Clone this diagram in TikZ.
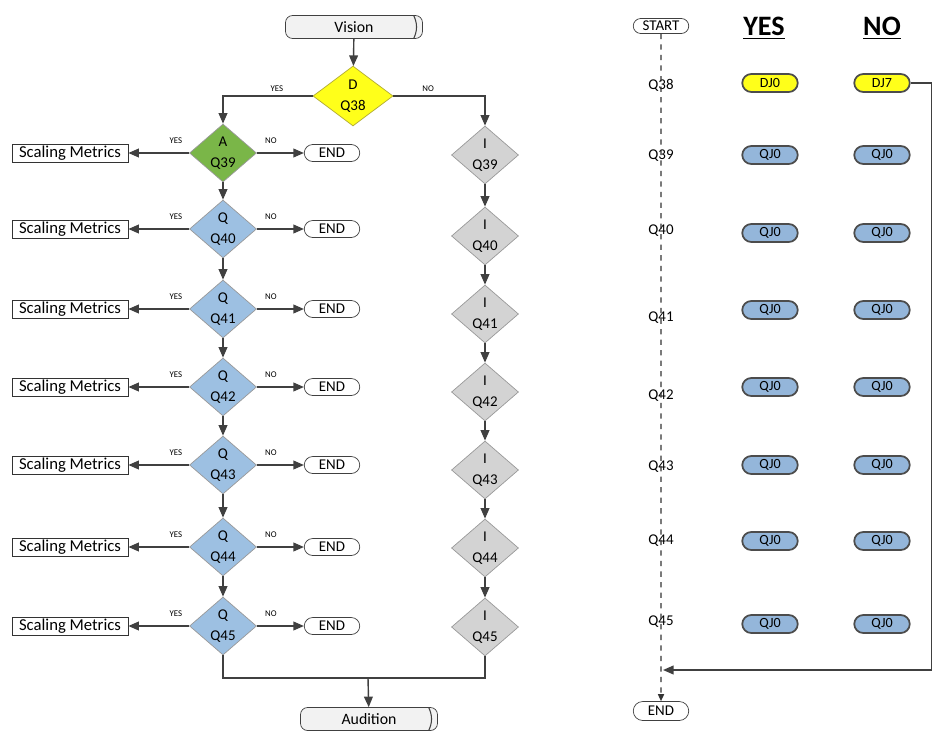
\documentclass[tikz,border=0pt]{standalone}
\usepackage{fontspec}
\setsansfont{Carlito}
\usepackage{tikz}
\usetikzlibrary{arrows.meta,positioning,shapes.geometric,shapes.misc,calc}
\definecolor{dyellow}{HTML}{FFFF1A}
\definecolor{agreen}{HTML}{7AB648}
\definecolor{qblue}{HTML}{9DC0E2}
\definecolor{igray}{HTML}{D3D3D3}
\definecolor{pillblue}{HTML}{94B6DA}
\tikzset{
  dec/.style={diamond, draw=black!40, fill=#1, minimum width=1.34cm, minimum height=1.16cm,
              inner sep=0pt, aspect=1.15, align=center, font=\sffamily\fontsize{8.5}{9}\selectfont},
  term/.style={rounded rectangle, draw=black!75, fill=white, minimum width=1.18cm,
               minimum height=0.34cm, inner sep=1pt, font=\sffamily\fontsize{8.5}{9}\selectfont},
  drum/.style={rectangle, rounded corners=4pt, draw=black!75, fill=black!5, minimum width=2.74cm,
               minimum height=0.46cm, inner sep=1pt, font=\sffamily\fontsize{9}{10}\selectfont,
               path picture={\draw[black!75, line width=0.6pt]
                 ([xshift=-5pt]path picture bounding box.north east) to[bend left=25]
                 ([xshift=-5pt]path picture bounding box.south east);}},
  scalebox/.style={rectangle, draw=black!80, minimum width=2.32cm, minimum height=0.33cm,
                   inner sep=1pt, font=\sffamily\fontsize{9.5}{10}\selectfont},
  pill/.style={rounded rectangle, draw=black!70, line width=1pt, fill=#1, minimum width=1.18cm,
               minimum height=0.36cm, inner sep=1pt, font=\sffamily\fontsize{8}{9}\selectfont},
  rowlbl/.style={inner sep=2pt, font=\sffamily\fontsize{8.5}{9}\selectfont},
  head/.style={font=\sffamily\bfseries\fontsize{16}{18}\selectfont},
  lbl/.style={font=\sffamily\fontsize{5}{6}\selectfont, inner sep=2pt},
  arr/.style={-{Triangle[length=6pt,width=5pt]}, line width=0.8pt, draw=black!75},
  line/.style={line width=0.8pt, draw=black!75},
  dashline/.style={dashed, line width=0.7pt, draw=black!80, -{Triangle[length=4pt,width=3.5pt]}},
}
\begin{document}
\begin{tikzpicture}[x=0.02cm, y=-0.02cm]
  \useasboundingbox (0,0) rectangle (936,737);

  % left flow
  \node[drum] (vision) at (354,27) {Vision};
  \node[dec=dyellow, draw=olive!70, minimum width=1.6cm, minimum height=1.2cm] (d38) at (353,96) {D\\[3pt]Q38};
  \draw[arr] (vision) -- (d38);

  \foreach \q/\y/\g/\c/\t in {39/153/155/agreen/A, 40/229/236/qblue/Q, 41/309/314/qblue/Q,
                              42/387/392/qblue/Q, 43/465/470/qblue/Q, 44/547/548/qblue/Q,
                              45/626/627/qblue/Q} {
    \node[dec=\c] (l\q) at (223,\y) {\t\\[3pt]Q\q};
    \node[dec=igray] (r\q) at (485,\g) {I\\[3pt]Q\q};
    \node[scalebox] (sm\q) at (70,\y) {Scaling Metrics};
    \node[term] (end\q) at (332,\y) {END};
    \draw[arr] (l\q) -- node[lbl, above, pos=0.22, yshift=3pt]{YES} (sm\q);
    \draw[arr] (l\q) -- node[lbl, above, pos=0.3, yshift=3pt]{NO} (end\q);
  }
  \foreach \a/\b in {39/40, 40/41, 41/42, 42/43, 43/44, 44/45} {
    \draw[arr] (l\a) -- (l\b);
    \draw[arr] (r\a) -- (r\b);
  }
  \draw[arr] (d38.west) -| node[lbl, above, pos=0.2]{YES} (l39.north);
  \draw[arr] (d38.east) -| node[lbl, above, pos=0.19]{NO} (r39.north);

  \node[drum] (audition) at (369,719) {Audition};
  \coordinate (merge) at (368,678);
  \draw[line] (l45) |- (merge) -| (r45);
  \draw[arr] (merge) -- (audition);

  % answer table
  \node[term, minimum height=0.3cm] (start) at (661,26) {START};
  \node[head] (hyes) at (764,28) {\underline{YES}};
  \node[head] (hno) at (882,28) {\underline{NO}};

  \foreach \q/\y/\p/\c/\a/\b in {38/85/83/dyellow/DJ0/DJ7, 39/156/155/pillblue/QJ0/QJ0,
                                 40/231/233/pillblue/QJ0/QJ0, 41/318/310/pillblue/QJ0/QJ0,
                                 42/396/387/pillblue/QJ0/QJ0, 43/467/465/pillblue/QJ0/QJ0,
                                 44/541/541/pillblue/QJ0/QJ0, 45/622/624/pillblue/QJ0/QJ0} {
    \node[rowlbl] (t\q) at (661,\y) {Q\q};
    \node[pill=\c] (py\q) at (770,\p) {\a};
    \node[pill=\c] (pn\q) at (882,\p) {\b};
  }

  \node[term, minimum height=0.38cm] (stop) at (661,711) {END};
  \draw[dashline] (start) foreach \q in {38,...,45} {-- (t\q)} -- (stop);

  \coordinate (join) at (663,670);
  \draw[arr] (pn38.east) -- ++(21,0) |- (join);
\end{tikzpicture}
\end{document}
